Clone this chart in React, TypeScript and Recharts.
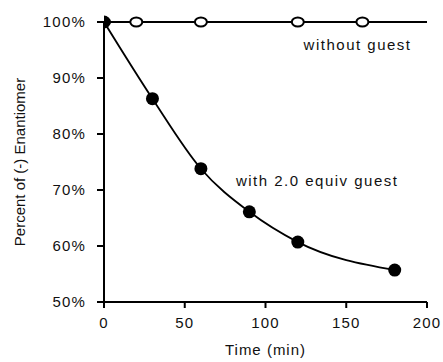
import { LineChart, Line, XAxis, YAxis, ReferenceDot } from "recharts";

// time (min) and percent of (-) enantiomer
const withGuestTime = [0, 30, 60, 90, 120, 180];
const withGuestPct = [100, 86.3, 73.8, 66.1, 60.7, 55.7];

const withoutGuestTime = [0, 20, 60, 120, 160, 200];
const withoutGuestPct = [100, 100, 100, 100, 100, 100];
// last point only carries the line to the edge, no marker there
const withoutGuestMarked = [true, true, true, true, true, false];

const xTicks = [0, 50, 100, 150, 200];
const yTicks = [50, 60, 70, 80, 90, 100];

const withGuest = withGuestTime.map((x, i) => ({ x, y: withGuestPct[i] }));
const withoutGuest = withoutGuestTime.map((x, i) => ({
    x,
    y: withoutGuestPct[i],
    marked: withoutGuestMarked[i],
}));

const font = "'Liberation Sans', Arial, Helvetica, sans-serif";
const tickStyle = { fontSize: 15, fill: "#111", fontFamily: font, letterSpacing: 1.2 };

const OpenDot = (props: any) => {
    const { cx, cy, payload, index } = props;
    if (!payload.marked) return <g key={`o-${index}`} />;
    return <ellipse key={`o-${index}`} cx={cx} cy={cy} rx={6} ry={4.6} fill="#fff" stroke="#000" strokeWidth={2} />;
};

const FilledDot = (props: any) => {
    const { cx, cy, index } = props;
    return <circle key={`f-${index}`} cx={cx} cy={cy} r={6.5} fill="#000" />;
};

const note = (text: string) => (props: any) => {
    const { viewBox } = props;
    const x = viewBox.x + (viewBox.width || 0) / 2;
    const y = viewBox.y + (viewBox.height || 0) / 2;
    return (
        <text x={x} y={y} dy="0.36em" textAnchor="middle" fontSize={15} fontFamily={font} letterSpacing={1.5} fill="#111">
            {text}
        </text>
    );
};

export default function App() {
    return (
        <div style={{ position: "absolute", left: 0, top: 0, width: 443, height: 362, background: "#fff" }}>
            <LineChart width={443} height={362} margin={{ top: 22, right: 16, left: 0, bottom: 0 }}>
                <XAxis
                    type="number"
                    dataKey="x"
                    domain={[0, 200]}
                    ticks={xTicks}
                    allowDataOverflow
                    height={60}
                    tickSize={6}
                    tickMargin={9}
                    stroke="#000"
                    strokeWidth={2}
                    tick={tickStyle}
                    tickLine={{ stroke: "#000", strokeWidth: 2 }}
                    label={{ value: "Time (min)", position: "insideBottom", offset: 7, style: { ...tickStyle, fontSize: 15, letterSpacing: 1 } }}
                />
                <YAxis
                    type="number"
                    domain={[50, 100]}
                    ticks={yTicks}
                    width={104}
                    tickSize={7}
                    tickMargin={11}
                    stroke="#000"
                    strokeWidth={2}
                    tick={tickStyle}
                    tickLine={{ stroke: "#000", strokeWidth: 2 }}
                    tickFormatter={(v: number) => `${v}%`}
                    label={{
                        value: "Percent of (-) Enantiomer",
                        angle: -90,
                        position: "insideLeft",
                        offset: 20,
                        style: { textAnchor: "middle", fontSize: 15, fontFamily: font, fill: "#111" },
                    }}
                />
                <Line
                    data={withoutGuest}
                    dataKey="y"
                    type="linear"
                    stroke="#000"
                    strokeWidth={2}
                    dot={<OpenDot />}
                    isAnimationActive={false}
                />
                <Line
                    data={withGuest}
                    dataKey="y"
                    type="monotone"
                    stroke="#000"
                    strokeWidth={1.8}
                    dot={<FilledDot />}
                    isAnimationActive={false}
                />
                <ReferenceDot x={157} y={95.9} r={0} stroke="none" label={note("without guest")} />
                <ReferenceDot x={132} y={71.6} r={0} stroke="none" label={note("with 2.0 equiv guest")} />
            </LineChart>
        </div>
    );
}
